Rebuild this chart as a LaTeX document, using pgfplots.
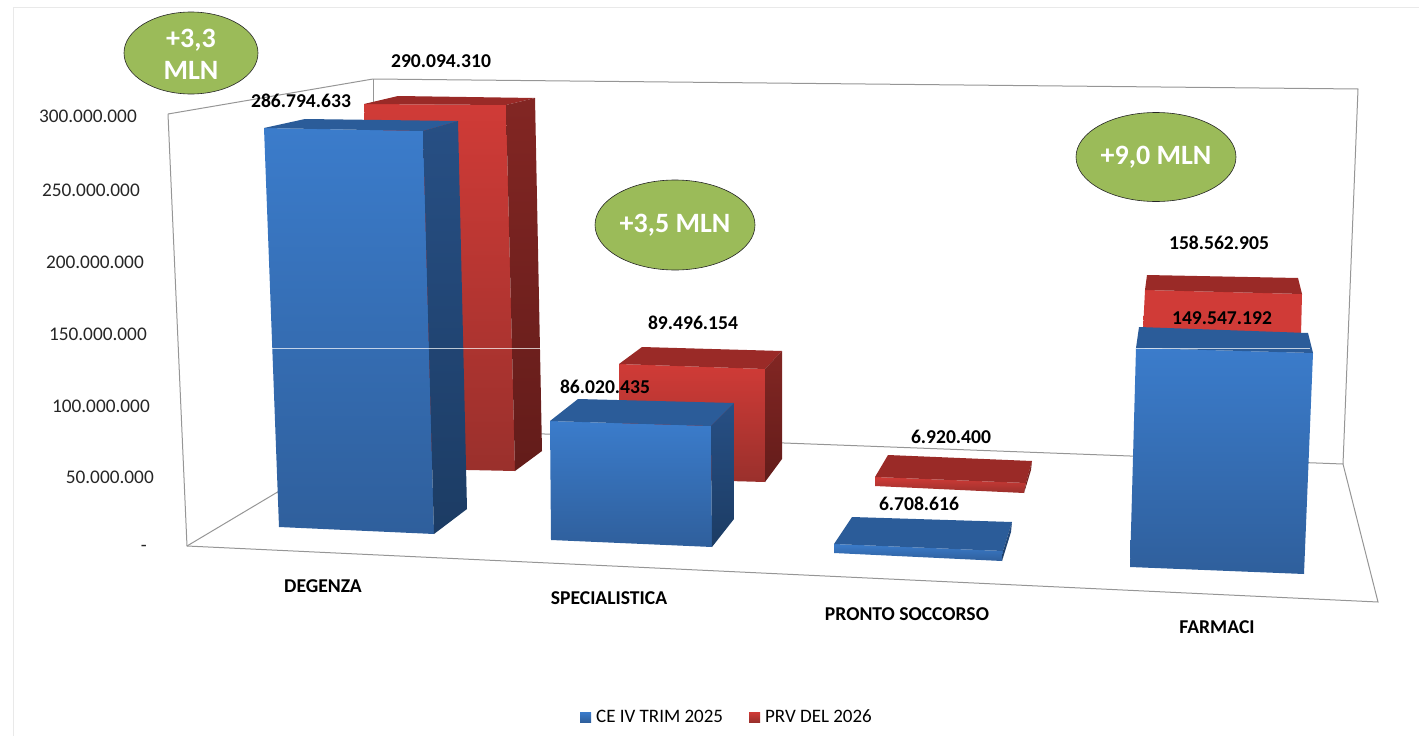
\documentclass[border=0pt]{standalone}
\usepackage{fontspec}
\usepackage{pgfplots}
\pgfplotsset{compat=1.18}
\setmainfont{Carlito}
\definecolor{bluetop}{HTML}{3B7CCB}
\definecolor{bluebot}{HTML}{2F5F9C}
\definecolor{blueroof}{HTML}{2B5C99}
\definecolor{bluesidetop}{HTML}{274F84}
\definecolor{bluesidebot}{HTML}{1C3C64}
\definecolor{redtop}{HTML}{D03B37}
\definecolor{redbot}{HTML}{9A302C}
\definecolor{redroof}{HTML}{9A2A27}
\definecolor{redsidetop}{HTML}{822623}
\definecolor{redsidebot}{HTML}{631C1A}
\definecolor{oval}{HTML}{9BBB59}
\definecolor{framec}{HTML}{969696}
\definecolor{panel}{HTML}{E9E9E9}
\newcommand{\fs}[1]{\fontsize{#1}{#1}\selectfont}
% picture-space polygon: fill shading, coordinates in picture pixels
\newcommand{\shadeface}[3]{\addplot[forget plot,draw=none,top color=#1,bottom color=#2] coordinates {#3} --cycle;}
\newcommand{\solidface}[2]{\addplot[forget plot,draw=none,fill=#1] coordinates {#2} --cycle;}
\newcommand{\fline}[1]{\addplot[forget plot,framec,line width=1pt] coordinates {#1};}
\begin{document}
\begin{tikzpicture}
\begin{axis}[
  scale only axis, width=1419pt, height=736pt,
  xmin=0, xmax=1419, ymin=0, ymax=736, y dir=reverse,
  axis line style={draw=none}, tick style={draw=none},
  xtick=\empty, ytick=\empty,
  legend columns=2,
  legend cell align=left,
  legend image code/.code={\path[#1] (0pt,-5pt) rectangle (11pt,5pt); \path (14pt,0pt);},
  legend style={draw=none, fill=none, at={(axis cs:727,717)}, anchor=center,
    font=\fs{19}, /tikz/every even column/.append style={column sep=24pt}},
]
% panel and frame
\addplot[forget plot,panel,line width=1pt] coordinates {(13,736) (13,7) (1419,7)};
\fline{(168,114) (187,546) (1378,602) (1343,464) (385,428)}
\fline{(168,114) (373,79) (1358,89) (1343,464)}
\fline{(373,79) (373,110)}
\fline{(187,546) (385,428)}
% DEGENZA  CE 286.794.633  PRV 290.094.310
\shadeface{redtop}{redbot}{(364,104) (506,105) (515,471) (375,468)}
\solidface{redroof}{(364,104) (398,96) (535,98) (506,105)}
\shadeface{redsidetop}{redsidebot}{(506,105) (535,98) (542,451) (515,471)}
\shadeface{bluetop}{bluebot}{(264,128) (423,131) (434,534) (279,527)}
\solidface{blueroof}{(264,128) (305,119) (458,121) (423,131)}
\shadeface{bluesidetop}{bluesidebot}{(423,131) (458,121) (467,509) (434,534)}
% SPECIALISTICA  CE 86.020.435  PRV 89.496.154
\shadeface{redtop}{redbot}{(619,364) (765,369) (765,482) (619,478)}
\solidface{redroof}{(619,364) (642,347) (782,351) (765,369)}
\shadeface{redsidetop}{redsidebot}{(765,369) (782,351) (782,459) (765,482)}
\shadeface{bluetop}{bluebot}{(550,421) (711,426) (712,547) (551,540)}
\solidface{blueroof}{(550,421) (578,399) (734,403) (711,426)}
\shadeface{bluesidetop}{bluesidebot}{(711,426) (734,403) (734,519) (712,547)}
% PRONTO SOCCORSO  CE 6.708.616  PRV 6.920.400
\shadeface{redtop}{redbot}{(875,477) (1026,483) (1024,493) (875,486)}
\solidface{redroof}{(875,477) (888,455) (1032,461) (1026,483)}
\shadeface{redsidetop}{redsidebot}{(1026,483) (1032,461) (1031,470) (1024,493)}
\shadeface{bluetop}{bluebot}{(834,544) (1003,551) (1002,561) (834,553)}
\solidface{blueroof}{(834,544) (852,517) (1012,522) (1003,551)}
\shadeface{bluesidetop}{bluesidebot}{(1003,551) (1012,522) (1011,532) (1002,561)}
% FARMACI  CE 149.547.192  PRV 158.562.905
\shadeface{redtop}{redtop}{(1145,290) (1302,294) (1301,335) (1143,330)}
\solidface{redroof}{(1145,290) (1147,275) (1298,278) (1302,294)}
\shadeface{bluetop}{bluebot}{(1136,348) (1313,353) (1304,574) (1130,567)}
\solidface{blueroof}{(1136,348) (1139,327) (1308,333) (1313,353)}
% light rule across the bars
\addplot[forget plot,white,opacity=.7,line width=.8pt] coordinates {(272,348) (541,348)};
\addplot[forget plot,white,opacity=.7,line width=.8pt] coordinates {(1136,348) (1310,348)};
% legend
\addlegendimage{draw=none, top color=bluetop, bottom color=bluebot}
\addlegendentry{CE IV TRIM 2025}
\addlegendimage{draw=none, top color=redtop, bottom color=redbot}
\addlegendentry{PRV DEL 2026}
% value axis labels
\foreach \yy/\xx/\lab in {116/137/300.000.000,190/140/250.000.000,262/144/200.000.000,334/147/150.000.000,406/150/100.000.000,477/154/50.000.000,548/147/-}{
  \edef\tmp{\noexpand\node[anchor=east,inner sep=0pt,text=black!85,font=\noexpand\fs{19.3}] at (axis cs:\xx,\yy) {\lab};}\tmp
}
% data labels
\foreach \xx/\yy/\lab in {301/101/286.794.633,441/61/290.094.310,605/387/86.020.435,693/323/89.496.154,919/504/6.708.616,951/437/6.920.400,1222/318/149.547.192,1219/243/158.562.905,323/586/DEGENZA,609/598/SPECIALISTICA,907/614/PRONTO SOCCORSO,1217/627/FARMACI}{
  \edef\tmp{\noexpand\node[inner sep=0pt,text=black,font=\noexpand\bfseries\noexpand\fs{19.6}] at (axis cs:\xx,\yy) {\lab};}\tmp
}
% difference ovals
\draw[fill=oval,draw=black!85,line width=.6pt] (axis cs:191,53) ellipse [x radius=67pt, y radius=41pt];
\draw[fill=oval,draw=black!85,line width=.6pt] (axis cs:675,225) ellipse [x radius=80pt, y radius=45pt];
\draw[fill=oval,draw=black!85,line width=.6pt] (axis cs:1156,157) ellipse [x radius=80pt, y radius=44.5pt];
\node[text=white,font=\bfseries\fs{28},align=center,inner sep=0pt] at (axis cs:191,54) {+3,3\\[4pt]MLN};
\node[text=white,font=\bfseries\fs{28},inner sep=0pt] at (axis cs:675,225) {+3,5 MLN};
\node[text=white,font=\bfseries\fs{28},inner sep=0pt] at (axis cs:1156,157) {+9,0 MLN};
\end{axis}
\end{tikzpicture}
\end{document}
